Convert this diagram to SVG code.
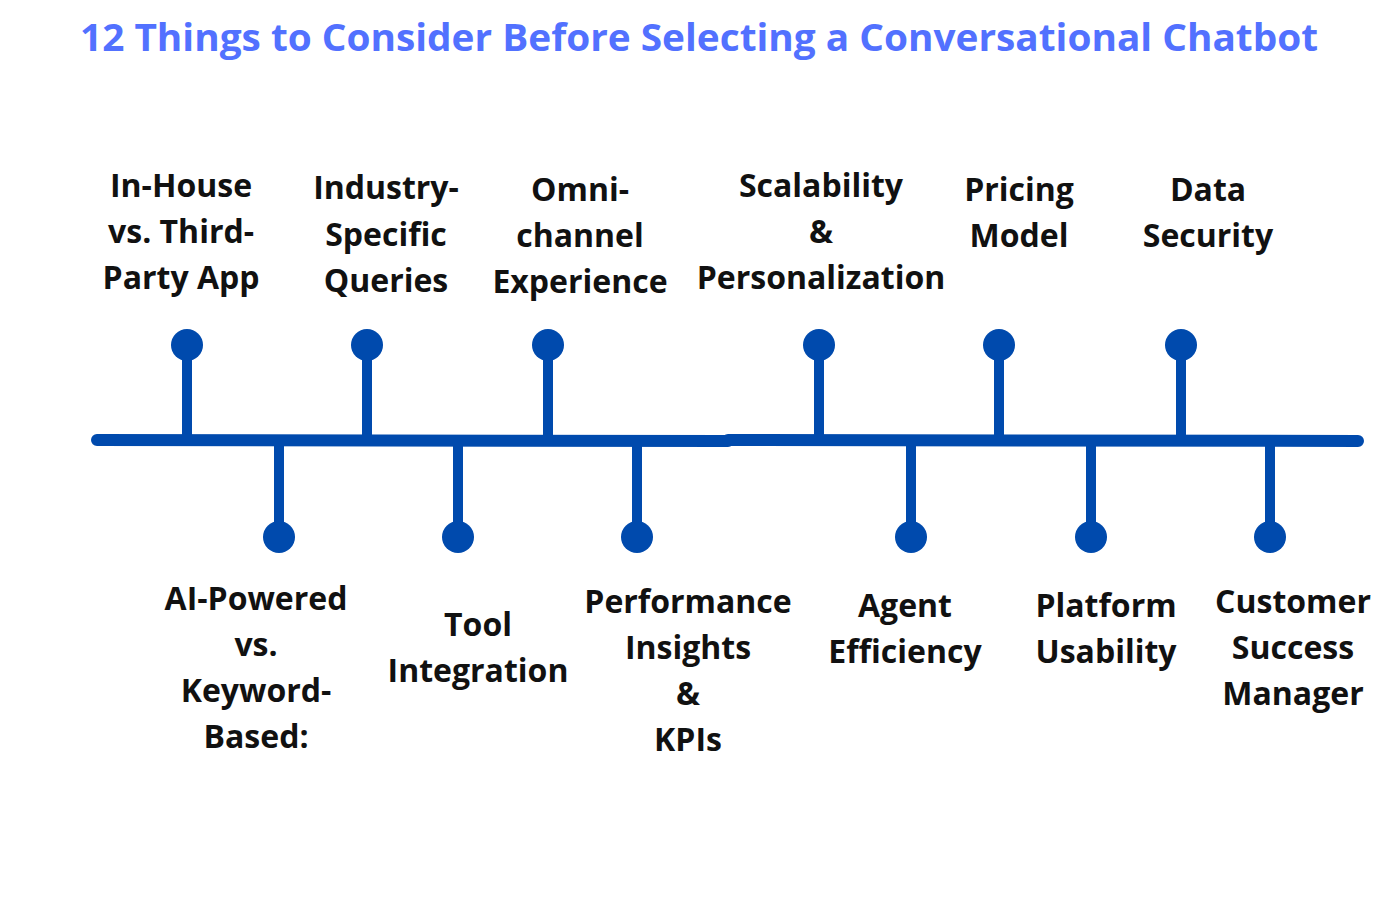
<svg xmlns="http://www.w3.org/2000/svg" width="1400" height="900" viewBox="0 0 1400 900">
<style>
.title{font-family:"Open Sans","Noto Sans",sans-serif;font-weight:700;font-size:38px;fill:#5271ff;text-anchor:middle}
.lbl{font-family:"Open Sans","Noto Sans",sans-serif;font-weight:700;font-size:32px;fill:#111;text-anchor:middle}
.ln{stroke:#004aad;stroke-width:12;stroke-linecap:round;fill:none}
.st{stroke:#004aad;stroke-width:10;fill:none}
.dot{fill:#004aad}
</style>
<rect width="1400" height="900" fill="#fff"/>
<text class="title" x="699" y="51" textLength="1238" lengthAdjust="spacingAndGlyphs">12 Things to Consider Before Selecting a Conversational Chatbot</text>
<g id="connectors">
<line class="ln" x1="97" y1="440" x2="728" y2="441"/>
<line class="ln" x1="728" y1="440" x2="1358" y2="441"/>
<line class="st" x1="187" y1="345" x2="187" y2="440"/>
<line class="st" x1="367" y1="345" x2="367" y2="440"/>
<line class="st" x1="548" y1="345" x2="548" y2="440"/>
<line class="st" x1="819" y1="345" x2="819" y2="440"/>
<line class="st" x1="999" y1="345" x2="999" y2="440"/>
<line class="st" x1="1181" y1="345" x2="1181" y2="440"/>
<line class="st" x1="279" y1="440" x2="279" y2="537"/>
<line class="st" x1="458" y1="440" x2="458" y2="537"/>
<line class="st" x1="637" y1="440" x2="637" y2="537"/>
<line class="st" x1="911" y1="440" x2="911" y2="537"/>
<line class="st" x1="1091" y1="440" x2="1091" y2="537"/>
<line class="st" x1="1270" y1="440" x2="1270" y2="537"/>
</g>
<g id="n1"><ellipse class="dot" cx="187" cy="345" rx="16" ry="16"/><text class="lbl" x="181"><tspan x="181" y="197">In-House</tspan><tspan x="181" y="243">vs. Third-</tspan><tspan x="181" y="289">Party App</tspan></text></g>
<g id="n2"><ellipse class="dot" cx="279" cy="537" rx="16" ry="16"/><text class="lbl"><tspan x="256" y="610">AI-Powered</tspan><tspan x="256" y="656">vs.</tspan><tspan x="256" y="702">Keyword-</tspan><tspan x="256" y="748">Based:</tspan></text></g>
<g id="n3"><ellipse class="dot" cx="367" cy="345" rx="16" ry="16"/><text class="lbl"><tspan x="386" y="199">Industry-</tspan><tspan x="386" y="246">Specific</tspan><tspan x="386" y="292">Queries</tspan></text></g>
<g id="n4"><ellipse class="dot" cx="458" cy="537" rx="16" ry="16"/><text class="lbl"><tspan x="478" y="636">Tool</tspan><tspan x="478" y="682">Integration</tspan></text></g>
<g id="n5"><ellipse class="dot" cx="548" cy="345" rx="16" ry="16"/><text class="lbl"><tspan x="580" y="201">Omni-</tspan><tspan x="580" y="247">channel</tspan><tspan x="580" y="293">Experience</tspan></text></g>
<g id="n6"><ellipse class="dot" cx="637" cy="537" rx="16" ry="16"/><text class="lbl"><tspan x="688" y="613">Performance</tspan><tspan x="688" y="659">Insights</tspan><tspan x="688" y="705">&amp;</tspan><tspan x="688" y="751">KPIs</tspan></text></g>
<g id="n7"><ellipse class="dot" cx="819" cy="345" rx="16" ry="16"/><text class="lbl"><tspan x="821" y="197">Scalability</tspan><tspan x="821" y="243">&amp;</tspan><tspan x="821" y="289">Personalization</tspan></text></g>
<g id="n8"><ellipse class="dot" cx="911" cy="537" rx="16" ry="16"/><text class="lbl"><tspan x="905" y="617">Agent</tspan><tspan x="905" y="663">Efficiency</tspan></text></g>
<g id="n9"><ellipse class="dot" cx="999" cy="345" rx="16" ry="16"/><text class="lbl"><tspan x="1019" y="201">Pricing</tspan><tspan x="1019" y="247">Model</tspan></text></g>
<g id="n10"><ellipse class="dot" cx="1091" cy="537" rx="16" ry="16"/><text class="lbl"><tspan x="1106" y="617">Platform</tspan><tspan x="1106" y="663">Usability</tspan></text></g>
<g id="n11"><ellipse class="dot" cx="1181" cy="345" rx="16" ry="16"/><text class="lbl"><tspan x="1208" y="201">Data</tspan><tspan x="1208" y="247">Security</tspan></text></g>
<g id="n12"><ellipse class="dot" cx="1270" cy="537" rx="16" ry="16"/><text class="lbl"><tspan x="1293" y="613">Customer</tspan><tspan x="1293" y="659">Success</tspan><tspan x="1293" y="705">Manager</tspan></text></g>
</svg>
